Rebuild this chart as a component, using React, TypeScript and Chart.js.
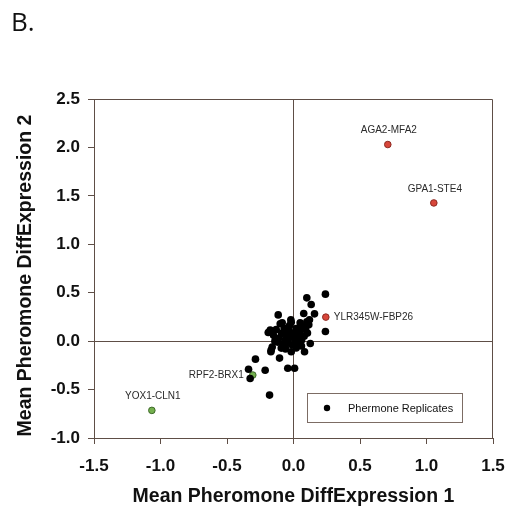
import React, { useEffect, useRef } from "react";
import { Chart, registerables } from "chart.js";

Chart.register(...registerables);

// ---- data ----
const replicateX = [
  0.24, 0.1, 0.133, 0.077, 0.158, -0.115, -0.085, -0.017, 0.115, 0.24, -0.175, 0.105, 0.126,
  -0.168, -0.092, -0.105, -0.017, 0.083, -0.286, -0.213, -0.043, 0.008, -0.338, -0.326, -0.18,
  -0.19, -0.15, -0.13, -0.11, -0.09, -0.07, -0.06, -0.05, -0.04, -0.03, -0.02, -0.01, 0.0, 0.01,
  0.02, 0.03, 0.04, 0.05, 0.06, 0.07, 0.08, -0.08, -0.12, -0.14, -0.03, 0.09, 0.1, 0.12, -0.06,
  0.02, 0.06, -0.1, 0.05, -0.02, -0.16, -0.17,
];
const replicateY = [
  0.485, 0.447, 0.379, 0.286, 0.282, 0.271, 0.189, 0.196, 0.168, 0.1, 0.114, 0.083, -0.024,
  -0.093, -0.072, -0.175, -0.11, -0.11, -0.186, -0.3, -0.28, -0.28, -0.29, -0.385, -0.557,
  0.09, 0.06, 0.12, 0.03, 0.08, 0.13, 0.02, 0.07, -0.02, 0.1, 0.04, -0.04, 0.08, 0.02,
  0.13, -0.01, 0.06, 0.11, 0.01, 0.15, 0.05, -0.03, -0.01, 0.0, 0.16, 0.12, 0.2, 0.22, -0.08,
  -0.07, -0.05, 0.18, 0.19, 0.22, -0.06, -0.11,
];

const upNames = ["AGA2-MFA2", "GPA1-STE4", "YLR345W-FBP26"];
const upX = [0.709, 1.055, 0.243];
const upY = [2.03, 1.427, 0.248];

const downNames = ["RPF2-BRX1", "YOX1-CLN1"];
const downX = [-0.306, -1.065];
const downY = [-0.35, -0.715];

const legendLabel = "Phermone Replicates";
const panelLabel = "B.";
const xTitle = "Mean Pheromone DiffExpression 1";
const yTitle = "Mean Pheromone DiffExpression 2";

// ---- styles ----
const AXIS = "#5e4e46";
const FONT = "'Liberation Sans', Arial, sans-serif";
const TITLE_SIZE = 19.5;
const LABEL_PLACE: Record<string, "above" | "right" | "left"> = {
  "AGA2-MFA2": "above",
  "GPA1-STE4": "above",
  "YLR345W-FBP26": "right",
  "RPF2-BRX1": "left",
  "YOX1-CLN1": "above",
};

const toPoints = (xs: number[], ys: number[]) => xs.map((x, i) => ({ x, y: ys[i] }));

const overlay = {
  id: "overlay",
  beforeDraw(chart: any) {
    const { ctx, width, height } = chart;
    ctx.save();
    ctx.fillStyle = "#ffffff";
    ctx.fillRect(0, 0, width, height);
    ctx.restore();
  },
  afterDraw(chart: any) {
    const { ctx, chartArea } = chart;
    const { left, top, right, bottom } = chartArea;
    ctx.save();
    // top & right frame
    ctx.strokeStyle = AXIS;
    ctx.lineWidth = 1;
    ctx.beginPath();
    ctx.moveTo(Math.round(left) + 0.5, Math.round(top) + 0.5);
    ctx.lineTo(Math.round(right) - 0.5, Math.round(top) + 0.5);
    ctx.lineTo(Math.round(right) - 0.5, Math.round(bottom) + 0.5);
    ctx.stroke();

    // panel label
    ctx.fillStyle = "#111";
    ctx.font = "26px 'Open Sans', sans-serif";
    ctx.textBaseline = "alphabetic";
    ctx.textAlign = "left";
    ctx.fillText(panelLabel, 11, 31);

    // y axis title
    ctx.save();
    ctx.translate(26, (top + bottom) / 2 + 7);
    ctx.rotate(-Math.PI / 2);
    ctx.font = `bold ${TITLE_SIZE}px ${FONT}`;
    ctx.fillStyle = "#111";
    ctx.textAlign = "center";
    ctx.textBaseline = "middle";
    ctx.fillText(yTitle, 0, 0);
    ctx.restore();

    // point labels
    ctx.font = `10px ${FONT}`;
    ctx.fillStyle = "#2a2a2a";
    const xs = chart.scales.x;
    const ys = chart.scales.y;
    const drawLabels = (names: string[], vx: number[], vy: number[]) => {
      names.forEach((n, i) => {
        const px = xs.getPixelForValue(vx[i]);
        const py = ys.getPixelForValue(vy[i]);
        const place = LABEL_PLACE[n];
        ctx.textBaseline = "middle";
        if (place === "above") {
          ctx.textAlign = "center";
          ctx.fillText(n, px + 1, py - 14);
        } else if (place === "right") {
          ctx.textAlign = "left";
          ctx.fillText(n, px + 8, py);
        } else {
          ctx.textAlign = "right";
          ctx.fillText(n, px - 9, py);
        }
      });
    };
    drawLabels(upNames, upX, upY);
    drawLabels(downNames, downX, downY);

    // legend box
    const bw = 155;
    const bh = 29;
    const bx = Math.round(right) - 31 - bw;
    const by = Math.round(bottom) - 16 - bh;
    ctx.strokeStyle = "#7c6c64";
    ctx.lineWidth = 1;
    ctx.strokeRect(bx + 0.5, by + 0.5, bw, bh);
    ctx.fillStyle = "#000";
    ctx.beginPath();
    ctx.arc(bx + 20, by + bh / 2 + 0.5, 3.2, 0, Math.PI * 2);
    ctx.fill();
    ctx.font = `11px ${FONT}`;
    ctx.fillStyle = "#111";
    ctx.textAlign = "left";
    ctx.textBaseline = "middle";
    ctx.fillText(legendLabel, bx + 41, by + bh / 2 + 1);
    ctx.restore();
  },
};

export default function App() {
  const ref = useRef<HTMLCanvasElement | null>(null);

  useEffect(() => {
    if (!ref.current) return;
    const gridColor = (c: any) => (c.tick && c.tick.value === 0 ? AXIS : "rgba(0,0,0,0)");
    const chart = new Chart(ref.current, {
      type: "scatter",
      data: {
        datasets: [
          {
            label: legendLabel,
            data: toPoints(replicateX, replicateY),
            backgroundColor: "#000000",
            borderColor: "#000000",
            pointRadius: 3.8,
            borderWidth: 0,
          },
          {
            label: "up",
            data: toPoints(upX, upY),
            backgroundColor: "#d8463a",
            borderColor: "#8e2a22",
            pointRadius: 3.3,
            borderWidth: 1,
          },
          {
            label: "down",
            data: toPoints(downX, downY),
            backgroundColor: "#74b04e",
            borderColor: "#3f6a2b",
            pointRadius: 3.3,
            borderWidth: 1,
          },
        ],
      },
      options: {
        responsive: false,
        animation: false,
        layout: { padding: { left: 0, top: 99, right: 18, bottom: 0 } },
        plugins: {
          legend: { display: false },
          tooltip: { enabled: false },
        },
        scales: {
          x: {
            type: "linear",
            min: -1.5,
            max: 1.5,
            afterFit: (s: any) => {
              s.height = 70;
              s.paddingLeft = 0;
              s.paddingRight = 0;
            },
            border: { display: true, color: AXIS, width: 1 },
            grid: {
              drawOnChartArea: true,
              color: gridColor,
              tickColor: AXIS,
              tickLength: 6,
              lineWidth: 1,
            },
            ticks: {
              stepSize: 0.5,
              color: "#111",
              padding: 12,
              font: { family: FONT, size: 17, weight: "bold" },
              callback: (v: any) => Number(v).toFixed(1),
            },
            title: {
              display: true,
              text: xTitle,
              color: "#111",
              font: { family: FONT, size: TITLE_SIZE, weight: "bold" },
              padding: { top: 0, bottom: 0 },
            },
          },
          y: {
            type: "linear",
            min: -1,
            max: 2.5,
            afterFit: (s: any) => {
              s.width = 94;
            },
            border: { display: true, color: AXIS, width: 1 },
            grid: {
              drawOnChartArea: true,
              color: gridColor,
              tickColor: AXIS,
              tickLength: 6,
              lineWidth: 1,
            },
            ticks: {
              stepSize: 0.5,
              color: "#111",
              padding: 8,
              font: { family: FONT, size: 17, weight: "bold" },
              callback: (v: any) => Number(v).toFixed(1),
            },
          },
        },
      },
      plugins: [overlay],
    } as any);
    return () => chart.destroy();
  }, []);

  return (
    <div style={{ position: "absolute", left: 0, top: 0, width: 511, height: 508 }}>
      <canvas ref={ref} width={511} height={508} style={{ display: "block" }} />
    </div>
  );
}
